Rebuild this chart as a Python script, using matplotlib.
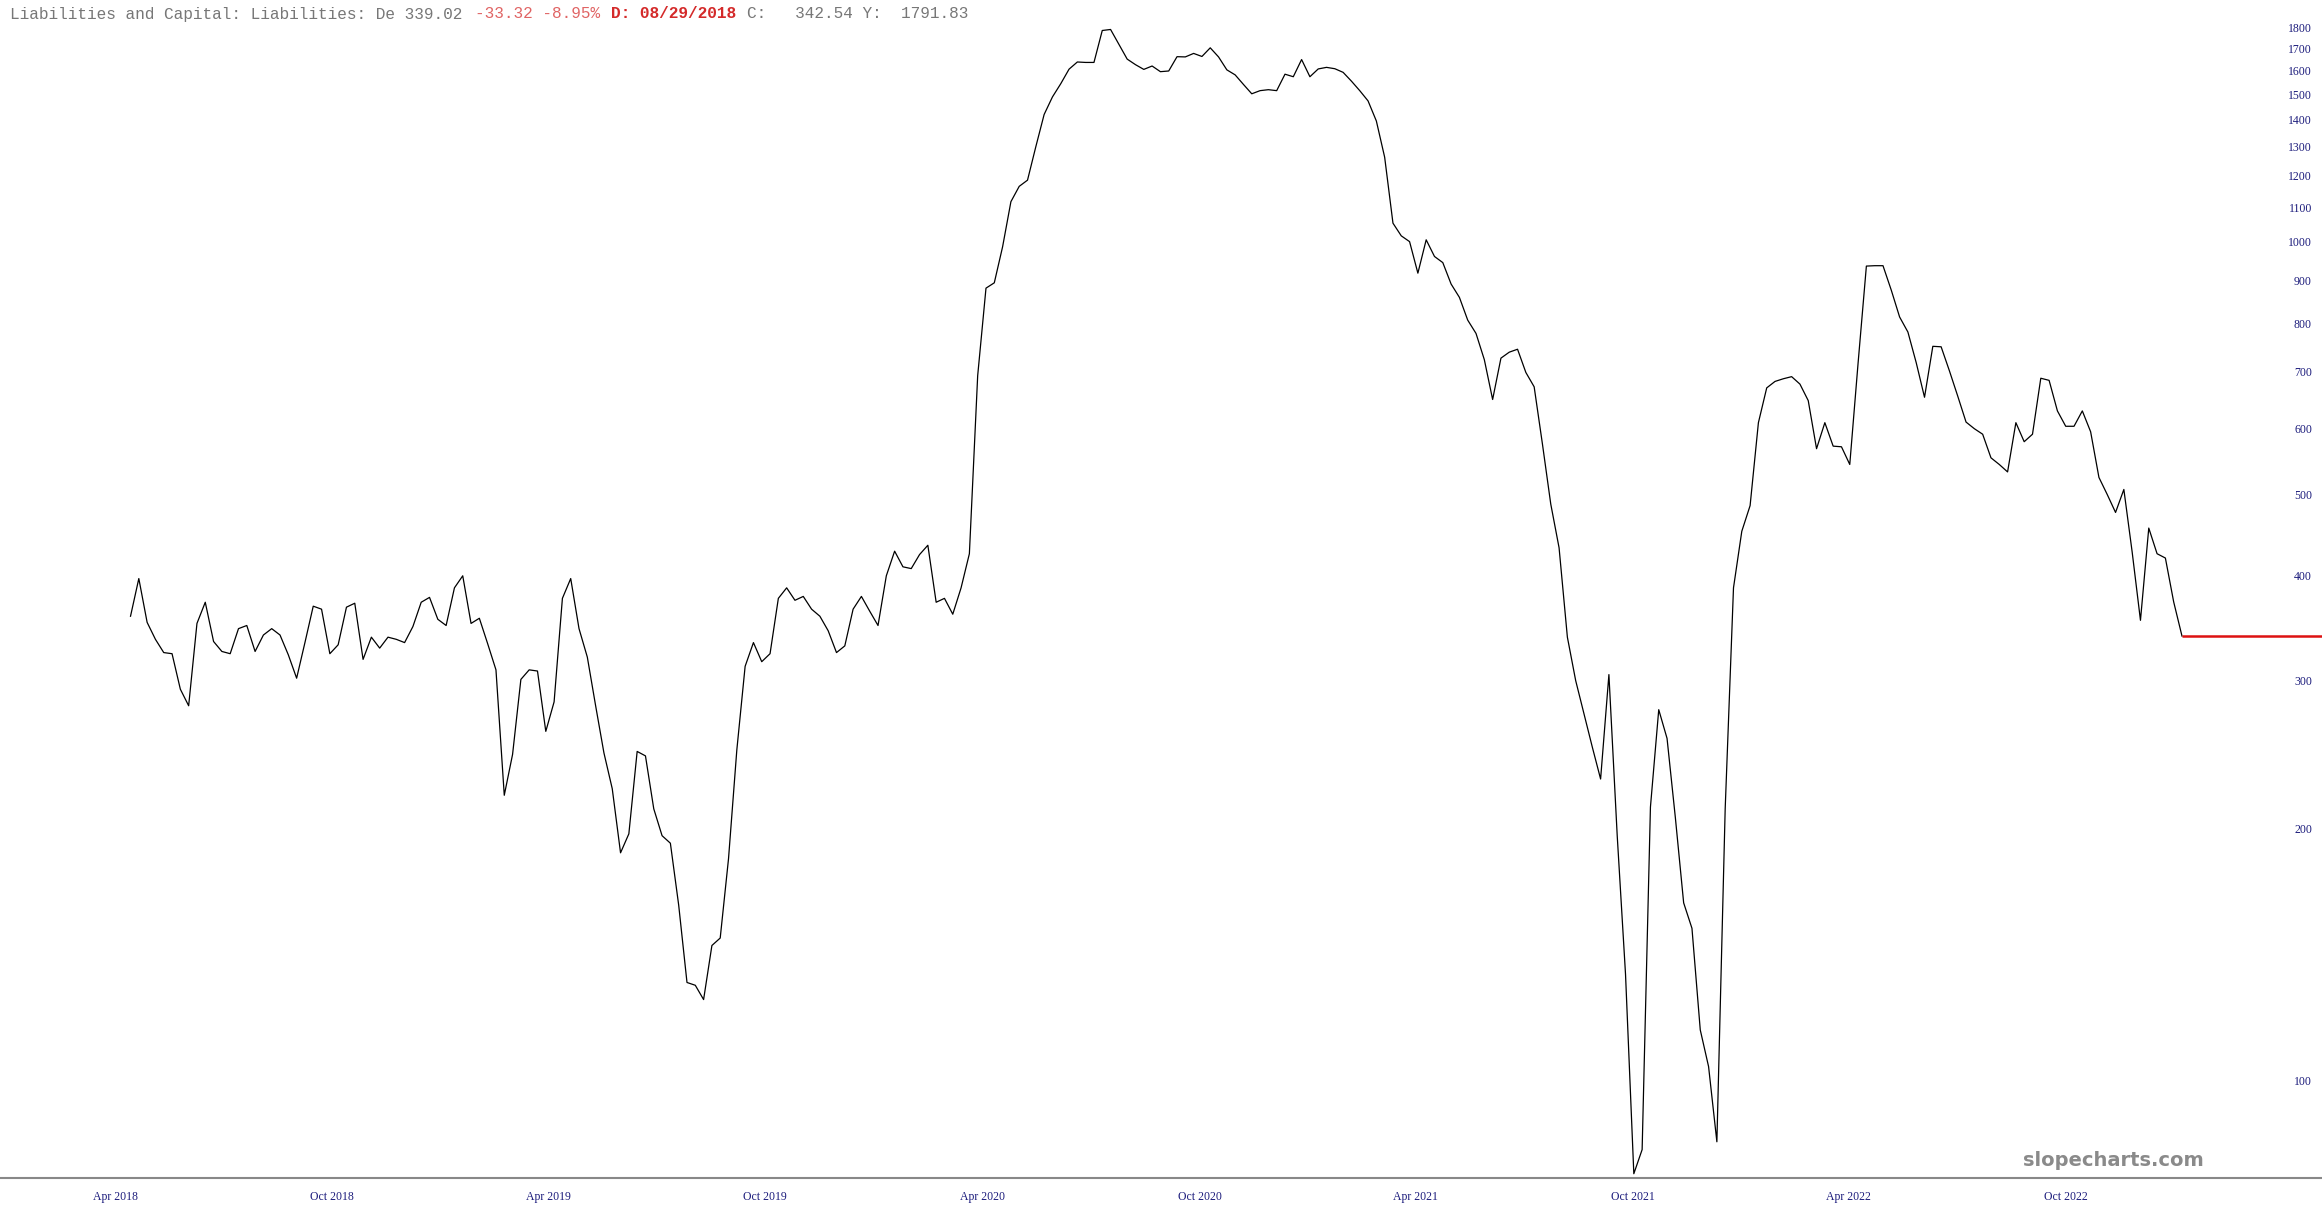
import matplotlib
matplotlib.use("Agg")
import matplotlib.pyplot as plt
from matplotlib.ticker import FixedLocator, FixedFormatter, NullLocator
import pandas as pd

# weekly series (log scale)
start_date = "2018-04-14"
values = [
    358, 397, 352, 336, 324, 323, 293, 280, 351, 372,
    334, 325, 323, 346, 349, 325, 340, 346, 340, 322,
    302, 333, 368, 365, 323, 331, 367, 371, 318, 338,
    328, 338, 336, 333, 348, 372, 377, 355, 349, 387,
    400, 351, 356, 332, 309, 219, 245, 301, 309, 308,
    261, 283, 376, 397, 346, 320, 280, 246, 223, 187,
    197, 247, 244, 211, 196, 192, 162, 131, 130, 125,
    145, 148, 184, 248, 312, 333, 316, 323, 376, 387,
    374, 378, 365, 358, 344, 324, 330, 365, 378, 363,
    349, 400, 428, 410, 408, 424, 435, 372, 376, 360,
    387, 425, 693, 881, 894, 987, 1117, 1165, 1185, 1299,
    1419, 1489, 1544, 1607, 1639, 1637, 1637, 1787, 1792, 1721,
    1652, 1627, 1606, 1621, 1596, 1599, 1663, 1662, 1678, 1664,
    1704, 1662, 1604, 1582, 1541, 1502, 1515, 1519, 1515, 1585,
    1574, 1650, 1574, 1608, 1615, 1609, 1593, 1555, 1515, 1473,
    1394, 1262, 1053, 1017, 1001, 918, 1006, 961, 945, 891,
    859, 807, 778, 724, 649, 727, 739, 745, 699, 672,
    574, 487, 432, 338, 300, 274, 250, 229, 305, 196,
    134, 77.5, 82.8, 212, 277, 256, 206, 163, 152, 115,
    104, 84.6, 211, 387, 452, 485, 609, 670, 682, 687,
    691, 677, 647, 567, 609, 571, 570, 543, 717, 936,
    937, 937, 876, 814, 781, 718, 653, 751, 750, 702,
    655, 610, 599, 590, 553, 543, 532, 609, 578, 590,
    688, 684, 629, 603, 603, 629, 594, 524, 500, 476,
    507, 427, 354, 456, 425, 420, 372.34, 339.02,
]
dates = pd.date_range(start_date, periods=len(values), freq="7D")
last_value = values[-1]

y_ticks = [100, 200, 300, 400, 500, 600, 700, 800, 900, 1000,
           1100, 1200, 1300, 1400, 1500, 1600, 1700, 1800]
x_tick_dates = pd.date_range("2018-04-01", "2022-10-01", freq="6MS")
x_tick_labels = [d.strftime("%b %Y") for d in x_tick_dates]

header_parts = [
    ("Liabilities and Capital: Liabilities: De 339.02 ", "#777777", "normal", 0),
    ("-33.32 -8.95%", "#e06464", "normal", 48),
    ("D: 08/29/2018", "#d42a2a", "bold", 62),
    ("C:   342.54 Y:  1791.83", "#777777", "normal", 76),
]

navy = "#1c1c7c"
W, H = 2322, 1218

plt.rcParams["font.family"] = ["Liberation Serif", "DejaVu Serif"]
fig = plt.figure(figsize=(W / 100, H / 100), dpi=100)
ax = fig.add_axes([0, 40.5 / H, 1, 1177.5 / H])

ax.plot(dates, values, color="black", lw=0.9)
x_right = pd.Timestamp("2023-05-05")
ax.hlines(last_value, dates[-1], x_right, color="#dd1111", lw=1.8)

ax.set_yscale("log")
ax.set_ylim(76.7, 1943)
ax.set_xlim(pd.Timestamp("2017-12-25"), x_right)

ax.yaxis.set_major_locator(FixedLocator(y_ticks))
ax.yaxis.set_major_formatter(FixedFormatter([str(t) for t in y_ticks]))
ax.yaxis.set_minor_locator(NullLocator())
ax.tick_params(axis="y", which="both", left=False, labelleft=False,
               right=False, labelright=True, length=0, pad=-7.2,
               labelsize=8.5, labelcolor=navy)
plt.setp(ax.yaxis.get_majorticklabels(), ha="right")

ax.set_xticks(x_tick_dates, x_tick_labels)
ax.xaxis.set_minor_locator(NullLocator())
ax.tick_params(axis="x", length=0, pad=9.5, labelsize=8.5, labelcolor=navy)

for s in ["top", "left", "right"]:
    ax.spines[s].set_visible(False)
ax.spines["bottom"].set_color("#888888")
ax.spines["bottom"].set_linewidth(1.5)

# header line, monospace
char_w = 9.7
for text, col, wt, idx in header_parts:
    fig.text((9.6 + idx * char_w) / W, 1 - 14 / H, text, color=col,
             fontweight=wt, fontsize=11.6, family="Liberation Mono",
             va="center", ha="left")

fig.text(2204 / W, 1 - 1161 / H, "slopecharts.com", ha="right", va="center",
         fontsize=14, fontweight="bold", color="#8a8a8a", family="DejaVu Sans")

fig.savefig("out.png", dpi=100)
